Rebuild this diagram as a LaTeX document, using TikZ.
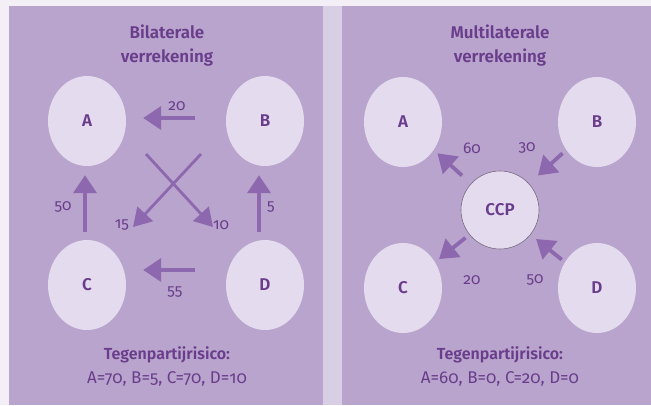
\documentclass[tikz,border=0pt]{standalone}
\usepackage{fontspec}
\setmainfont{Fira Sans}[Numbers=OldStyle, BoldFont={Fira Sans SemiBold}]
\usetikzlibrary{shapes.geometric,arrows.meta}

\definecolor{marge}{HTML}{F4EFF6}
\definecolor{tussen}{HTML}{D9CFE5}
\definecolor{paneel}{HTML}{B8A4CC}
\definecolor{bol}{HTML}{E4DBEE}
\definecolor{inkt}{HTML}{6A3D8C}
\definecolor{pijl}{HTML}{8D68AE}

\tikzset{
	partij/.style={ellipse, fill=bol, minimum width=78pt, minimum height=90pt, inner sep=0pt, text=inkt, font=\fontsize{17}{17}\selectfont\bfseries},
	ccp/.style={circle, fill=bol, draw=gray!70!inkt, line width=0.6pt, minimum size=78pt, inner sep=0pt, text=inkt, font=\fontsize{17}{17}\selectfont\bfseries},
	flow/.style={draw=pijl, line width=3.8pt, -{Triangle[length=18pt,width=23pt]}},
	kruis/.style={draw=pijl, line width=2.8pt, -{Triangle[length=18pt,width=21pt]}},
	bedrag/.style={text=inkt, font=\fontsize{15.5}{15.5}\selectfont},
	kop/.style={text=inkt, align=center, font=\fontsize{17}{24}\selectfont\bfseries},
	risico/.style={text=inkt, align=center, font=\fontsize{17}{24}\selectfont}
}

\begin{document}
\begin{tikzpicture}[x=1pt,y=-1pt]
	\useasboundingbox (0,0) rectangle (651,405);
	
	%ACHTERGROND
	\fill[marge] (0,0) rectangle (651,405);
	\fill[paneel] (9,6) rectangle (323,405);
	\fill[tussen] (323,6) rectangle (342,405);
	\fill[paneel] (342,6) rectangle (651,405);
	
	%BILATERAAL
	\node[kop] (kopL) at (167,46) {Bilaterale\\verrekening};
	\node[partij] (lA) at (87,121) {A};
	\node[partij] (lB) at (265,121) {B};
	\node[partij] (lC) at (87,285) {C};
	\node[partij] (lD) at (265,285) {D};
	
	\draw[flow, shorten <=31pt, shorten >=17pt] ([yshift=3pt]lB.west) -- ([yshift=3pt]lA.east);
	\draw[flow, shorten <=31pt, shorten >=17pt] ([yshift=15pt]lD.west) -- ([yshift=15pt]lC.east);
	\draw[flow, shorten <=8pt, shorten >=9pt] ([xshift=-2pt]lC.north) -- ([xshift=-2pt]lA.south);
	\draw[flow, shorten <=8pt, shorten >=9pt] ([xshift=-6pt]lD.north) -- ([xshift=-6pt]lB.south);
	
	\coordinate (kBo) at (201,154);
	\coordinate (kCo) at (133,227);
	\coordinate (kAo) at (146,154);
	\coordinate (kDo) at (213,227);
	\draw[kruis] (kBo) -- (kCo);
	\draw[kruis] (kAo) -- (kDo);
	
	\node[bedrag] (b20) at (177,106) {20};
	\node[bedrag] (b55) at (175,292) {55};
	\node[bedrag] (b50) at (63,207) {50};
	\node[bedrag] (b5) at (271,207) {5};
	\node[bedrag] (b15) at (122,225) {15};
	\node[bedrag] (b10) at (221,225) {10};
	
	\node[risico] (risL) at (167,366) {{\fontsize{16}{24}\selectfont\bfseries Tegenpartijrisico:}\\A=70, B=5, C=70, D=10};
	
	%MULTILATERAAL
	\node[kop] (kopR) at (500,46) {Multilaterale\\verrekening};
	\node[partij] (rA) at (403,122) {A};
	\node[partij] (rB) at (597,122) {B};
	\node[partij] (rC) at (403,288) {C};
	\node[partij] (rD) at (597,288) {D};
	\node[ccp] (CCP) at (500,210) {CCP};
	
	\draw[flow, shorten <=12pt, shorten >=5pt] (CCP) -- (rA);
	\draw[flow, shorten <=5pt, shorten >=12pt] (rB) -- (CCP);
	\draw[flow, shorten <=5pt, shorten >=5pt] (CCP) -- (rC);
	\draw[flow, shorten <=4pt, shorten >=7pt] (rD) -- (CCP);
	
	\node[bedrag] (c60) at (472,148) {60};
	\node[bedrag] (c30) at (527,148) {30};
	\node[bedrag] (c20) at (472,280) {20};
	\node[bedrag] (c50) at (535,280) {50};
	
	\node[risico] (risR) at (500,366) {{\fontsize{16}{24}\selectfont\bfseries Tegenpartijrisico:}\\A=60, B=0, C=20, D=0};
\end{tikzpicture}
\end{document}
